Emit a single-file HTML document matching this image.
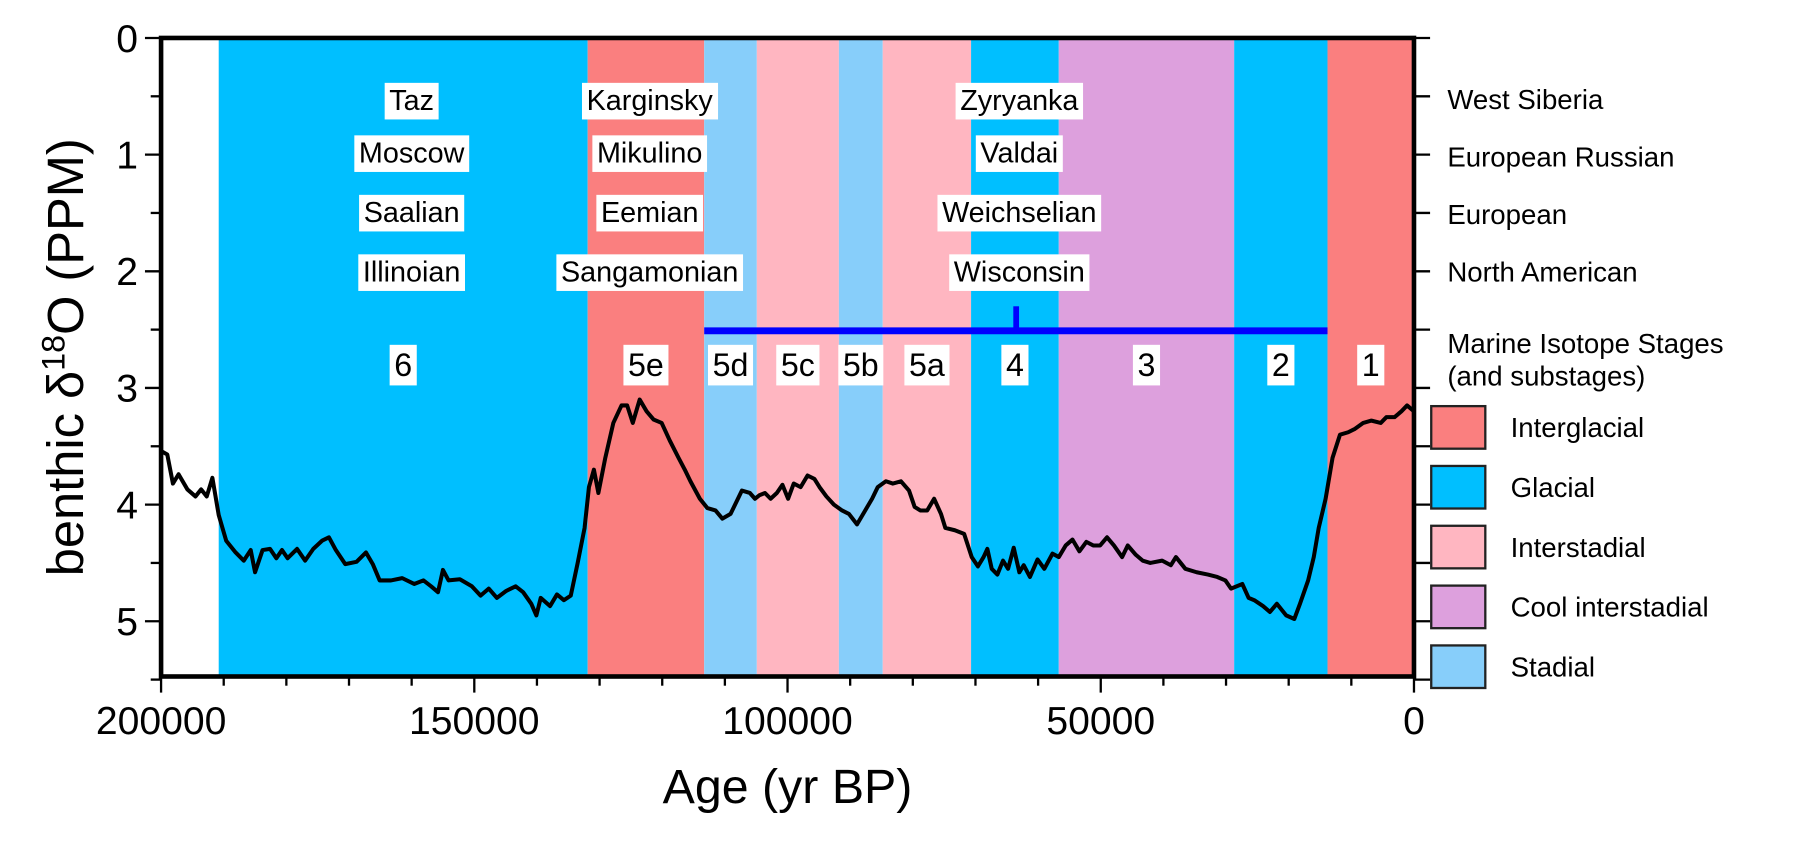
<!DOCTYPE html>
<html><head><meta charset="utf-8"><style>
html,body{margin:0;padding:0;background:#fff;width:1804px;height:860px;overflow:hidden}
svg text{font-family:"Liberation Sans",Arial,sans-serif}
</style></head><body>
<svg id="chart" width="1804" height="860" viewBox="0 0 1568 747.5" preserveAspectRatio="none" xmlns="http://www.w3.org/2000/svg"></svg>
<script>
const bandStarts=[200,190.8,131.9,113.3,104.9,91.8,84.8,70.7,56.7,28.7,13.8];
const bandEnds=[190.8,131.9,113.3,104.9,91.8,84.8,70.7,56.7,28.7,13.8,0];
const bandTypes=['none','glacial','interglacial','stadial','interstadial','stadial','interstadial','glacial','cool','glacial','interglacial'];
const stageLabels=['','6','5e','5d','5c','5b','5a','4','3','2','1'];
const ages=[200.0,199.0,198.1,197.2,195.8,194.5,193.6,192.7,191.8,190.8,189.6,188.1,186.8,185.7,185.0,183.8,182.6,181.6,180.7,179.8,178.3,177.0,175.7,174.3,173.2,172.1,170.6,168.8,167.3,166.2,165.1,163.3,161.5,159.6,158.1,156.9,155.8,155.0,154.1,152.3,150.4,149.0,147.7,146.4,144.9,143.4,142.2,140.9,140.1,139.4,137.9,136.8,135.7,134.6,133.5,132.4,131.7,130.9,130.2,129.1,127.8,126.5,125.6,124.7,123.6,122.5,121.4,120.1,118.8,117.4,116.4,115.5,114.0,112.8,111.5,110.4,109.1,107.3,106.0,105.2,104.5,103.6,102.7,101.7,100.8,99.9,99.0,97.9,96.8,95.7,94.9,93.8,92.6,91.3,90.2,88.9,87.6,86.5,85.6,84.3,83.2,81.9,80.6,79.7,78.8,77.7,76.6,75.5,74.8,73.3,71.8,70.6,69.6,68.7,68.1,67.4,66.5,65.6,64.8,63.9,63.0,62.3,61.3,60.1,59.0,57.7,56.7,55.6,54.5,53.4,52.3,51.2,50.1,49.0,47.9,46.6,45.7,44.4,43.3,42.1,40.2,38.8,38.0,36.5,34.7,32.9,31.4,30.1,29.2,27.4,26.4,25.5,24.1,23.0,21.9,20.4,19.1,18.2,16.9,16.0,15.2,14.1,13.0,11.8,10.5,9.4,8.1,6.8,5.3,4.4,3.1,2.0,1.1,0];
const d18O=[3.54,3.57,3.82,3.74,3.87,3.93,3.87,3.93,3.77,4.09,4.31,4.41,4.48,4.39,4.58,4.39,4.38,4.46,4.39,4.46,4.38,4.48,4.38,4.31,4.28,4.39,4.51,4.49,4.41,4.51,4.65,4.65,4.63,4.68,4.65,4.70,4.75,4.56,4.65,4.64,4.70,4.78,4.72,4.80,4.74,4.70,4.75,4.85,4.95,4.80,4.87,4.77,4.82,4.78,4.5,4.2,3.85,3.7,3.9,3.6,3.3,3.15,3.15,3.3,3.1,3.2,3.27,3.3,3.45,3.6,3.7,3.8,3.95,4.03,4.05,4.12,4.08,3.88,3.9,3.95,3.92,3.9,3.95,3.9,3.83,3.95,3.82,3.85,3.75,3.78,3.85,3.93,4.0,4.05,4.08,4.17,4.05,3.95,3.85,3.8,3.82,3.8,3.88,4.02,4.05,4.05,3.95,4.08,4.2,4.22,4.25,4.45,4.53,4.45,4.38,4.55,4.6,4.48,4.55,4.37,4.58,4.52,4.62,4.47,4.55,4.42,4.45,4.35,4.3,4.4,4.32,4.35,4.35,4.28,4.35,4.45,4.35,4.43,4.48,4.5,4.48,4.52,4.45,4.55,4.58,4.6,4.62,4.65,4.72,4.68,4.8,4.82,4.87,4.92,4.85,4.95,4.98,4.85,4.65,4.45,4.2,3.95,3.6,3.4,3.38,3.35,3.3,3.28,3.3,3.25,3.25,3.2,3.15,3.2];
const xTicks=[200000,150000,100000,50000,0];
const xTickLabels=['200000','150000','100000','50000','0'];
const yTicks=[0,1,2,3,4,5];
const regionRows=['West Siberia','European Russian','European','North American'];
const regionNames=[['Taz','Moscow','Saalian','Illinoian'],['Karginsky','Mikulino','Eemian','Sangamonian'],['Zyryanka','Valdai','Weichselian','Wisconsin']];
const regionCenters=[160000,122000,63000];
const regionY=[0.53,0.98,1.49,2.0];
const stageAxisStart=113.3, stageAxisEnd=13.8, stageAxisTick=63.5;
const legendNames=['Interglacial','Glacial','Interstadial','Cool interstadial','Stadial'];
const legendKeys=['interglacial','glacial','interstadial','cool','stadial'];
const colors={none:'#ffffff',interglacial:'#fa7f7f',glacial:'#00bfff',interstadial:'#ffb6c1',cool:'#dda0dd',stadial:'#87cefa'};

const L=140,R=1229,T=33,B=588;
const yPer=101.4;
const xs=a=>L+(200-a)/200*(R-L);
const ys=v=>T+v*yPer;
const svg=document.getElementById('chart');
const NS='http://www.w3.org/2000/svg';
function mk(tag,attrs,parent){const e=document.createElementNS(NS,tag);for(const k in attrs)e.setAttribute(k,attrs[k]);(parent||svg).appendChild(e);return e;}
function txt(s,x,y,size,anchor,parent){const t=mk('text',{x:x,y:y,'font-size':size,'text-anchor':anchor||'middle',fill:'#000'},parent);t.textContent=s;return t;}
function boxed(s,x,y,size,name){
  const g=mk('g',{});
  
  
  const t=txt(s,x,y,size,'middle',g);
  const bb=t.getBBox();
  const r=mk('rect',{x:bb.x-4,y:bb.y-2,width:bb.width+8,height:bb.height+4,fill:'#fff'});
  g.insertBefore(r,t);
}
bandStarts.forEach((s,i)=>{
  const r=mk('rect',{x:xs(s),y:T,width:xs(bandEnds[i])-xs(s),height:B-T,fill:colors[bandTypes[i]]});
  
  
});
regionNames.forEach((col,ci)=>col.forEach((n,ri)=>{
  boxed(n,xs(regionCenters[ci]/1000),ys(regionY[ri])+9,25,'region-label-'+n.toLowerCase());
}));
const sl=mk('line',{x1:xs(stageAxisStart),x2:xs(stageAxisEnd),y1:ys(2.51),y2:ys(2.51),stroke:'#0000ff','stroke-width':6});


const st=mk('line',{x1:xs(stageAxisTick),x2:xs(stageAxisTick),y1:ys(2.3),y2:ys(2.51),stroke:'#0000ff','stroke-width':5});


stageLabels.forEach((s,i)=>{ if(!s)return;
  boxed(s,(xs(bandStarts[i])+xs(bandEnds[i]))/2,ys(2.8)+10,28,'stage-label-'+s);
});
const pts=ages.map((a,i)=>xs(a).toFixed(1)+','+ys(d18O[i]).toFixed(1)).join(' ');
const pl=mk('polyline',{points:pts,fill:'none',stroke:'#000','stroke-width':3.5,'stroke-linejoin':'round'});


const fr=mk('rect',{x:L,y:T,width:R-L,height:B-T,fill:'none',stroke:'#000','stroke-width':4});


for(let v=0;v<=5.5;v+=0.5){
  const major=Number.isInteger(v);
  mk('line',{x1:L-(major?14:9),x2:L,y1:ys(v),y2:ys(v),stroke:'#000','stroke-width':2});
  mk('line',{x1:R,x2:R+14,y1:ys(v),y2:ys(v),stroke:'#000','stroke-width':2});
}
yTicks.forEach(v=>{const t=txt(String(v),L-20,ys(v)+12,34,'end');
  
  });
for(let k=0;k<=200;k+=10){const major=k%50===0;
  mk('line',{x1:xs(k),x2:xs(k),y1:B,y2:B+(major?14:8),stroke:'#000','stroke-width':2});}
xTicks.forEach((v,i)=>{const t=txt(xTickLabels[i],xs(v/1000),B+50,34,'middle');
  
  });
const xt=txt('Age (yr BP)',(L+R)/2,698,42,'middle');


const yt=mk('text',{x:0,y:0,'font-size':44,'text-anchor':'middle',transform:'translate(72,'+((T+B)/2)+') rotate(-90)'});
yt.innerHTML='benthic δ<tspan dy="-16" font-size="28">18</tspan><tspan dy="16">O (PPM)</tspan>';


regionRows.forEach((n,i)=>{const t=txt(n,1258,ys(0.53)+8+i*50,24,'start');
  
  });
const m1=txt('Marine Isotope Stages',1258,307,24,'start');


const m2=txt('(and substages)',1258,335,24,'start');


legendNames.forEach((n,i)=>{
  const g=mk('g',{});
  
  
  const y=353+i*52;
  mk('rect',{x:1244,y:y,width:47,height:37,fill:colors[legendKeys[i]],stroke:'#222','stroke-width':2},g);
  txt(n,1313,y+27,24,'start',g);
});
</script>
</body></html>
